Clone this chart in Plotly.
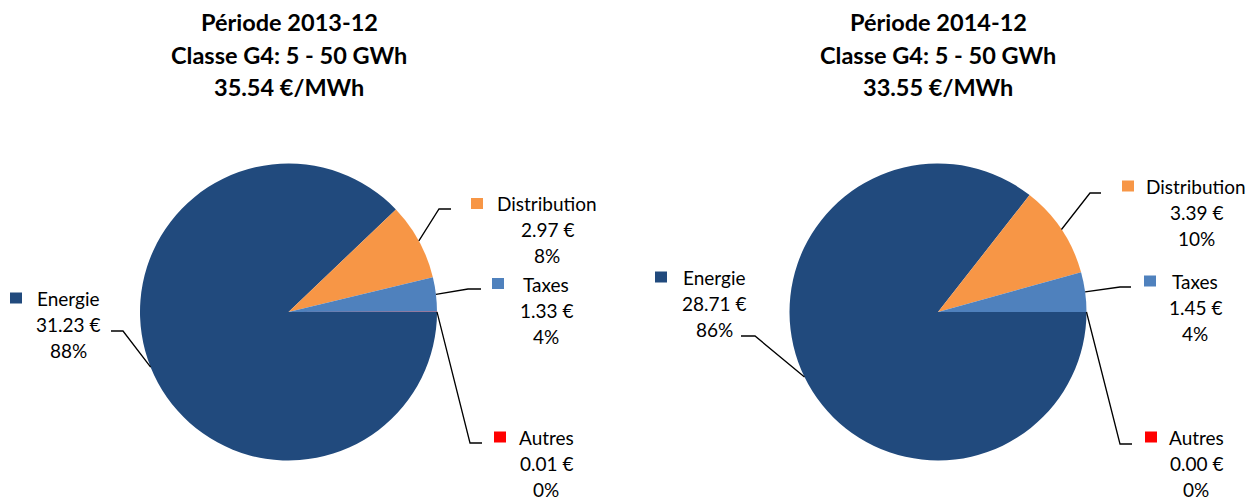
import math
import plotly.graph_objects as go

W, H = 1258, 500

# ---------------- data ----------------
categories = ["Energie", "Distribution", "Taxes", "Autres"]
colors = ["#214A7D", "#F79646", "#4F81BD", "#FF0000"]
periods = ["2013-12", "2014-12"]
classe = "Classe G4: 5 - 50 GWh"
values_2013 = [31.23, 2.97, 1.33, 0.01]
values_2014 = [28.71, 3.39, 1.45, 0.00]
series = [values_2013, values_2014]

# ---------------- layout constants (pixels) ----------------
FONT = "Lato"
R = 148.5
centers = [(288.5, 312), (938, 312)]
title_x = [289, 938]
title_y = [22, 55, 87]
LINE = 26.3
# per pie, per category: text centre x, first line y, legend square centre, elbow, end x
label_layout = [
    {
        "Energie": dict(tx=68, ty=298, sq=(16, 298), elbow=(123, 331), end=111),
        "Distribution": dict(tx=547, ty=203, sq=(477, 203.5), elbow=(439, 209), end=451),
        "Taxes": dict(tx=546, ty=284, sq=(498, 283.5), elbow=(468, 289), end=481),
        "Autres": dict(tx=546, ty=437, sq=(500, 437), elbow=(470, 443), end=482),
    },
    {
        "Energie": dict(tx=714, ty=277, sq=(661, 277), elbow=(755, 336), end=741),
        "Distribution": dict(tx=1196, ty=186, sq=(1128, 186), elbow=(1090, 193), end=1101),
        "Taxes": dict(tx=1195, ty=281, sq=(1150, 281), elbow=(1120, 287), end=1131),
        "Autres": dict(tx=1196, ty=437, sq=(1151, 437), elbow=(1120, 444), end=1132),
    },
]


def px(x):
    return x / W


def py(y):
    return 1 - y / H


fig = go.Figure()
annotations = []
shapes = []

for i, vals in enumerate(series):
    cx, cy = centers[i]
    total = sum(vals)
    fig.add_trace(go.Pie(
        labels=categories,
        values=vals,
        sort=False,
        direction="clockwise",
        rotation=90,
        marker=dict(colors=colors, line=dict(width=0)),
        textinfo="none",
        hoverinfo="label+value+percent",
        showlegend=False,
        domain=dict(x=[px(cx - R), px(cx + R)], y=[py(cy + R), py(cy - R)]),
    ))

    # title
    lines = [f"<b>Période {periods[i]}</b>", f"<b>{classe}</b>", f"<b>{total:.2f} €/MWh</b>"]
    for ln, yy in zip(lines, title_y):
        annotations.append(dict(
            x=px(title_x[i]), y=py(yy), xref="paper", yref="paper",
            text=ln, showarrow=False, xanchor="center", yanchor="middle",
            font=dict(family=FONT, size=23.5, color="#000000"),
        ))

    # labels with leader lines
    cum = 0.0
    for cat, v, col in zip(categories, vals, colors):
        frac = v / total if total else 0
        mid = (cum + frac / 2) * 2 * math.pi  # clockwise from 3 o'clock
        cum += frac
        sx = cx + R * math.cos(mid)
        sy = cy + R * math.sin(mid)
        L = label_layout[i][cat]
        ex, ey = L["elbow"]
        shapes.append(dict(
            type="path", xref="paper", yref="paper",
            path=f"M {px(sx)} {py(sy)} L {px(ex)} {py(ey)} L {px(L['end'])} {py(ey)}",
            line=dict(color="#000000", width=1.3),
        ))
        qx, qy = L["sq"]
        shapes.append(dict(
            type="rect", xref="paper", yref="paper",
            x0=px(qx - 6), x1=px(qx + 6), y0=py(qy + 5.5), y1=py(qy - 5.5),
            fillcolor=col, line=dict(width=0),
        ))
        txt = [cat, f"{v:.2f} €", f"{round(frac * 100):.0f}%"]
        for k, t in enumerate(txt):
            annotations.append(dict(
                x=px(L["tx"]), y=py(L["ty"] + k * LINE), xref="paper", yref="paper",
                text=t, showarrow=False, xanchor="center", yanchor="middle",
                font=dict(family=FONT, size=19, color="#000000"),
            ))

fig.update_layout(
    width=W, height=H,
    margin=dict(l=0, r=0, t=0, b=0),
    paper_bgcolor="white", plot_bgcolor="white",
    annotations=annotations, shapes=shapes,
)

fig.write_html(
    "out.html",
    config={"displayModeBar": False},
    post_script="document.body.style.margin='0';document.body.style.overflow='hidden';",
)
